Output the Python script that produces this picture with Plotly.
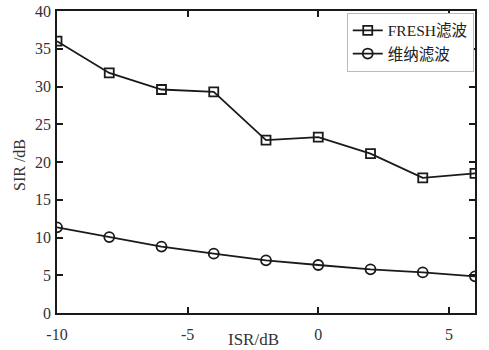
import plotly.graph_objects as go

isr = [-10, -8, -6, -4, -2, 0, 2, 4, 6]
fresh = [36.0, 31.8, 29.6, 29.3, 22.9, 23.3, 21.1, 17.9, 18.5]
wiener = [11.35, 10.05, 8.8, 7.86, 6.98, 6.36, 5.78, 5.38, 4.86]
names = ["FRESH滤波", "维纳滤波"]
x_ticks = [-10, -5, 0, 5]
x_ticktext = ["-10", "-5", "0", "5"]
y_ticks = [0, 5, 10, 15, 20, 25, 30, 35, 40]
x_title = "ISR/dB"
y_title = "SIR /dB"

font_fam = "Liberation Serif, Times New Roman, Noto Sans CJK SC, serif"

fig = go.Figure()
fig.add_trace(go.Scatter(
    x=isr, y=fresh, name=names[0], mode="lines+markers",
    line=dict(color="#1a1a1a", width=1.8),
    marker=dict(symbol="square-open", size=9, color="#1a1a1a", line=dict(width=1.8)),
))
fig.add_trace(go.Scatter(
    x=isr, y=wiener, name=names[1], mode="lines+markers",
    line=dict(color="#1a1a1a", width=1.8),
    marker=dict(symbol="circle-open", size=10, color="#1a1a1a", line=dict(width=1.8)),
))

axis_common = dict(
    showgrid=False, zeroline=False, showline=True, linecolor="#1a1a1a", linewidth=1.6,
    mirror="ticks", ticks="inside", ticklen=6, tickwidth=1.6, tickcolor="#1a1a1a",
    tickfont=dict(family=font_fam, size=16, color="#333"), automargin=False,
)

fig.update_layout(
    width=489, height=350,
    margin=dict(l=57, r=14, t=11, b=37, autoexpand=False),
    paper_bgcolor="white", plot_bgcolor="white",
    font=dict(family=font_fam, color="#222"),
    showlegend=True,
    legend=dict(
        x=0.997, y=0.994, xanchor="right", yanchor="top",
        bgcolor="white", bordercolor="#bbb", borderwidth=1,
        font=dict(family=font_fam, size=15.5, color="#222"),
        tracegroupgap=0, itemwidth=30,
    ),
    xaxis=dict(axis_common, range=[-10, 6], tickvals=x_ticks, ticktext=x_ticktext,
               ticklabelstandoff=6),
    yaxis=dict(axis_common, range=[0, 40], tickvals=y_ticks, ticklabelstandoff=1),
    annotations=[
        dict(text=x_title, xref="paper", yref="paper", x=0.47, y=0, yshift=-26,
             xanchor="center", yanchor="middle", showarrow=False,
             font=dict(family=font_fam, size=17, color="#333")),
        dict(text=y_title, xref="paper", yref="paper", x=0, xshift=-38, y=0.49,
             xanchor="center", yanchor="middle", showarrow=False, textangle=-90,
             font=dict(family=font_fam, size=16, color="#333")),
    ],
)

fig.write_html("out.html")
